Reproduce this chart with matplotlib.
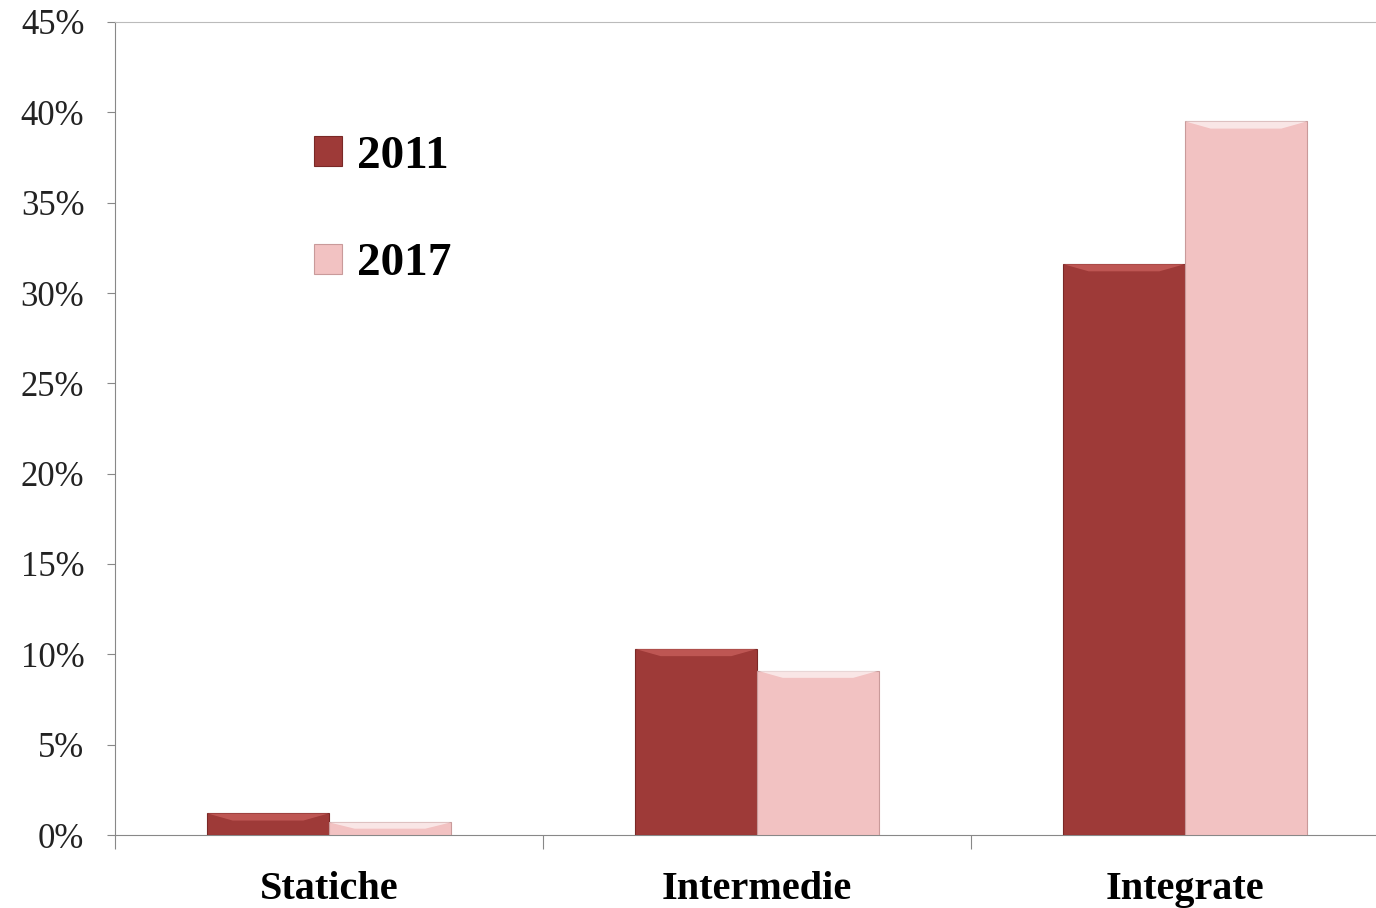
import numpy as np
import matplotlib.pyplot as plt
from matplotlib.patches import Polygon

categories = ["Statiche", "Intermedie", "Integrate"]
years = ["2011", "2017"]
values_2011 = [1.2, 10.3, 31.6]
values_2017 = [0.7, 9.1, 39.5]
yticks = [0, 5, 10, 15, 20, 25, 30, 35, 40, 45]

c2011 = "#9e3a38"
c2017 = "#f2c2c2"

fig = plt.figure(figsize=(13.76, 9.08), dpi=100)
ax = fig.add_axes([115 / 1376, 1 - 835 / 908, 1284 / 1376, 813 / 908])

x = np.arange(len(categories))
w = 0.285
b1 = ax.bar(x - w / 2, values_2011, w, color=c2011, edgecolor="#7a2826", linewidth=0.8, label=years[0], zorder=3)
b2 = ax.bar(x + w / 2, values_2017, w, color=c2017, edgecolor="#c99a9a", linewidth=0.8, label=years[1], zorder=3)


# simple bevel highlight on top of each bar
def bevel(bars, light):
    for p in bars:
        x0, y0 = p.get_x(), p.get_y()
        bw, bh = p.get_width(), p.get_height()
        d = min(0.4, bh * 0.5)
        dx = 0.06
        poly = Polygon([(x0, y0 + bh), (x0 + bw, y0 + bh), (x0 + bw - dx, y0 + bh - d), (x0 + dx, y0 + bh - d)],
                       closed=True, facecolor=light, edgecolor="none", alpha=0.6, zorder=4)
        ax.add_patch(poly)


bevel(b1, "#d46a66")
bevel(b2, "#ffffff")

ax.set_xlim(-0.5, 2.5)
ax.set_ylim(0, 45)
ax.set_yticks(yticks)
ax.set_yticklabels([f"{t}%" for t in yticks], fontsize=25, family="Liberation Serif", color="#222222")
ax.set_xticks([-0.5, 0.5, 1.5, 2.5])
ax.set_xticklabels([])
ax.set_xticks(x, minor=True)
ax.set_xticklabels(categories, minor=True, fontsize=29, fontweight="bold", family="Liberation Serif")
ax.tick_params(axis="x", which="minor", length=0, pad=26)
ax.tick_params(axis="x", which="major", length=10, color="#888888")
ax.tick_params(axis="y", length=6, color="#888888", pad=16)

for s in ["right"]:
    ax.spines[s].set_visible(False)
ax.spines["top"].set_color("#bbbbbb")
ax.spines["left"].set_color("#888888")
ax.spines["bottom"].set_color("#888888")

leg = ax.legend(loc="upper left", bbox_to_anchor=(0.122, 0.912), frameon=False,
                prop={"family": "Liberation Serif", "weight": "bold", "size": 34},
                handlelength=0.6, handleheight=0.6, labelspacing=1.38, handletextpad=0.3)

fig.savefig("out.png", dpi=100)
